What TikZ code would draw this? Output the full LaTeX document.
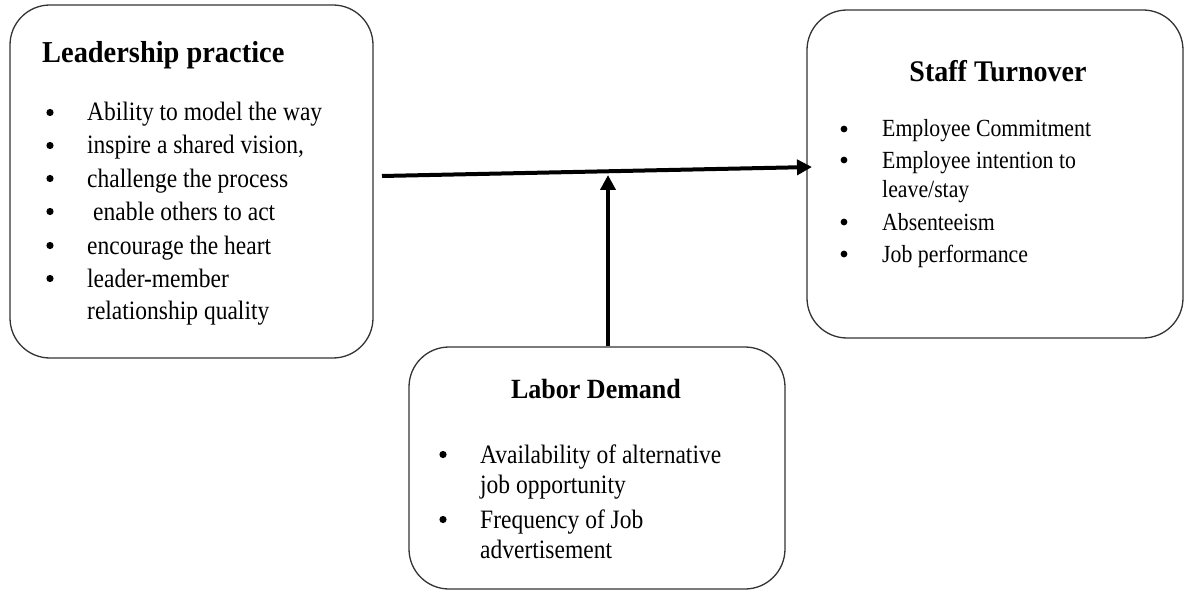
\documentclass[tikz,border=0pt]{standalone}
\usepackage{fontspec}
\usepackage{graphicx}
\setmainfont{Liberation Serif}
\usetikzlibrary{arrows.meta}
\newcommand\bulskip{\hspace*{42pt}}
\newcommand\vsb[1]{\scalebox{1}[1.13]{#1}}
\newcommand\vsh[1]{\scalebox{1}[1.07]{#1}}
\tikzset{
  box/.style={draw=black!80, line width=1.3pt, rounded corners=40pt, inner sep=0pt},
  headtxt/.style={anchor=base, inner sep=0pt, font=\bfseries\fontsize{#1}{#1}\selectfont},
  itemtxt/.style={anchor=base west, inner sep=0pt, font=\fontsize{#1}{#1}\selectfont},
  bul/.style={fill=black},
  link/.style={line width=4pt, -{Triangle[length=15pt,width=15pt]}}
}
\begin{document}
\begin{tikzpicture}[x=1pt,y=-1pt]
\useasboundingbox (0,0) rectangle (1184,591);
% boxes
\node[box, minimum width=363pt, minimum height=353pt] (lbox) at (191.5,181.5) {};
\node[box, minimum width=376pt, minimum height=328pt] (rbox) at (995,174) {};
\node[box, minimum width=376pt, minimum height=242pt] (bbox) at (597,468) {};
% left box text
\node[headtxt=28.4, anchor=base west] (lt) at (42,63) {\vsh{Leadership practice}};
\node[itemtxt=23.5] (l1) at (45,121) {\vsb{\bulskip Ability to model the way}};
\node[itemtxt=23.5] (l2) at (45,154) {\vsb{\bulskip inspire a shared vision,}};
\node[itemtxt=23.5] (l3) at (45,187) {\vsb{\bulskip challenge the process}};
\node[itemtxt=23.5] (l4) at (45,220) {\vsb{\bulskip\hspace*{6pt}enable others to act}};
\node[itemtxt=23.5] (l5) at (45,254) {\vsb{\bulskip encourage the heart}};
\node[itemtxt=23.5] (l6) at (45,287) {\vsb{\bulskip leader-member}};
\node[itemtxt=23.5] (l7) at (45,319) {\vsb{\bulskip relationship quality}};
\foreach \y in {121,154,187,220,254,287} \fill[bul] (50,\y-8.5) circle (3.6pt);
% right box text
\node[headtxt=28] (rt) at (998,82) {\vsh{Staff Turnover}};
\node[itemtxt=21.8] (r1) at (840,137) {\vsb{\bulskip Employee Commitment}};
\node[itemtxt=21.8] (r2) at (840,168) {\vsb{\bulskip Employee intention to}};
\node[itemtxt=21.8] (r3) at (840,197) {\vsb{\bulskip leave/stay}};
\node[itemtxt=21.8] (r4) at (840,230) {\vsb{\bulskip Absenteeism}};
\node[itemtxt=21.8] (r5) at (840,262) {\vsb{\bulskip Job performance}};
\foreach \y in {137,168,230,262} \fill[bul] (844,\y-8) circle (3.4pt);
% bottom box text
\node[headtxt=26] (bt) at (596,398) {\vsh{Labor Demand}};
\node[itemtxt=23.5] (b1) at (438,463) {\vsb{\bulskip Availability of alternative}};
\node[itemtxt=23.5] (b2) at (438,493) {\vsb{\bulskip job opportunity}};
\node[itemtxt=23.5] (b3) at (438,528) {\vsb{\bulskip Frequency of Job}};
\node[itemtxt=23.5] (b4) at (438,558) {\vsb{\bulskip advertisement}};
\foreach \y in {463,528} \fill[bul] (443,\y-8.5) circle (3.6pt);
% connectors
\coordinate (hs) at (382,176);
\coordinate (he) at (812,167);
\coordinate (vx) at (608,175);
\draw[link] (hs) -- (he);
\draw[link] (bbox.north -| vx) -- (vx);
\end{tikzpicture}
\end{document}
